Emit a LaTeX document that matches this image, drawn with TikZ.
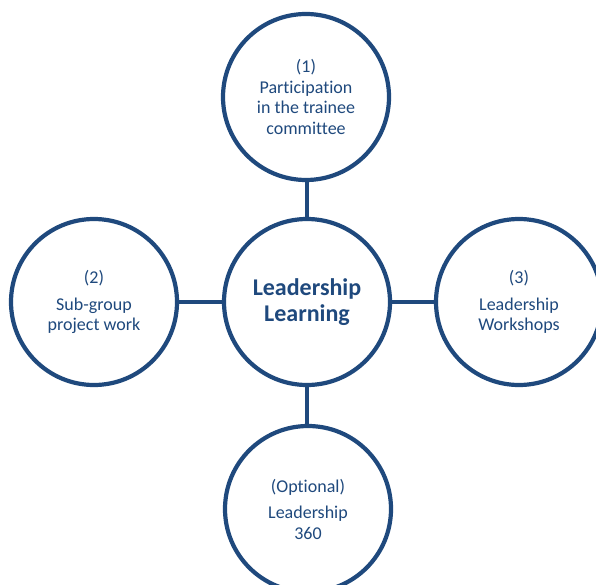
\documentclass[tikz,border=0pt]{standalone}
\usepackage{fontspec}
\setmainfont[Ligatures=NoCommon]{Carlito}
\definecolor{navy}{RGB}{31,73,125}
\begin{document}
\begin{tikzpicture}[x=1pt,y=-1pt,
  ring/.style={circle, draw=navy, line width=4.2pt, fill=white, inner sep=0pt,
    minimum size=166pt, align=center, text=navy,
    font=\fontsize{18}{20.5}\selectfont},
  hub/.style={ring, font=\fontsize{24}{25.5}\selectfont\bfseries},
  link/.style={draw=navy, line width=4.2pt}]
  \useasboundingbox (0,0) rectangle (596,585);
  \clip (0,0) rectangle (596,585);
  \coordinate (c) at (307,302);
  \node[hub] (learn) at (c) {Leadership\\Learning};
  \node[ring] (committee) at (306,97) {(1)\\Participation\\in the trainee\\committee};
  \node[ring] (subgroup) at (94,302) {(2)\\[6pt]Sub-group\\project work};
  \node[ring] (workshops) at (519,302) {(3)\\[6pt]Leadership\\Workshops};
  \node[ring] (three60) at (308,509) {(Optional)\\[6pt]Leadership\\360};
  % spokes between the rings, on the ring axes
  \draw[link] (committee.south -| c) -- (learn.north);
  \draw[link] (learn.south) -- (three60.north -| c);
  \draw[link] (subgroup.east) -- (learn.west);
  \draw[link] (learn.east) -- (workshops.west);
\end{tikzpicture}
\end{document}
